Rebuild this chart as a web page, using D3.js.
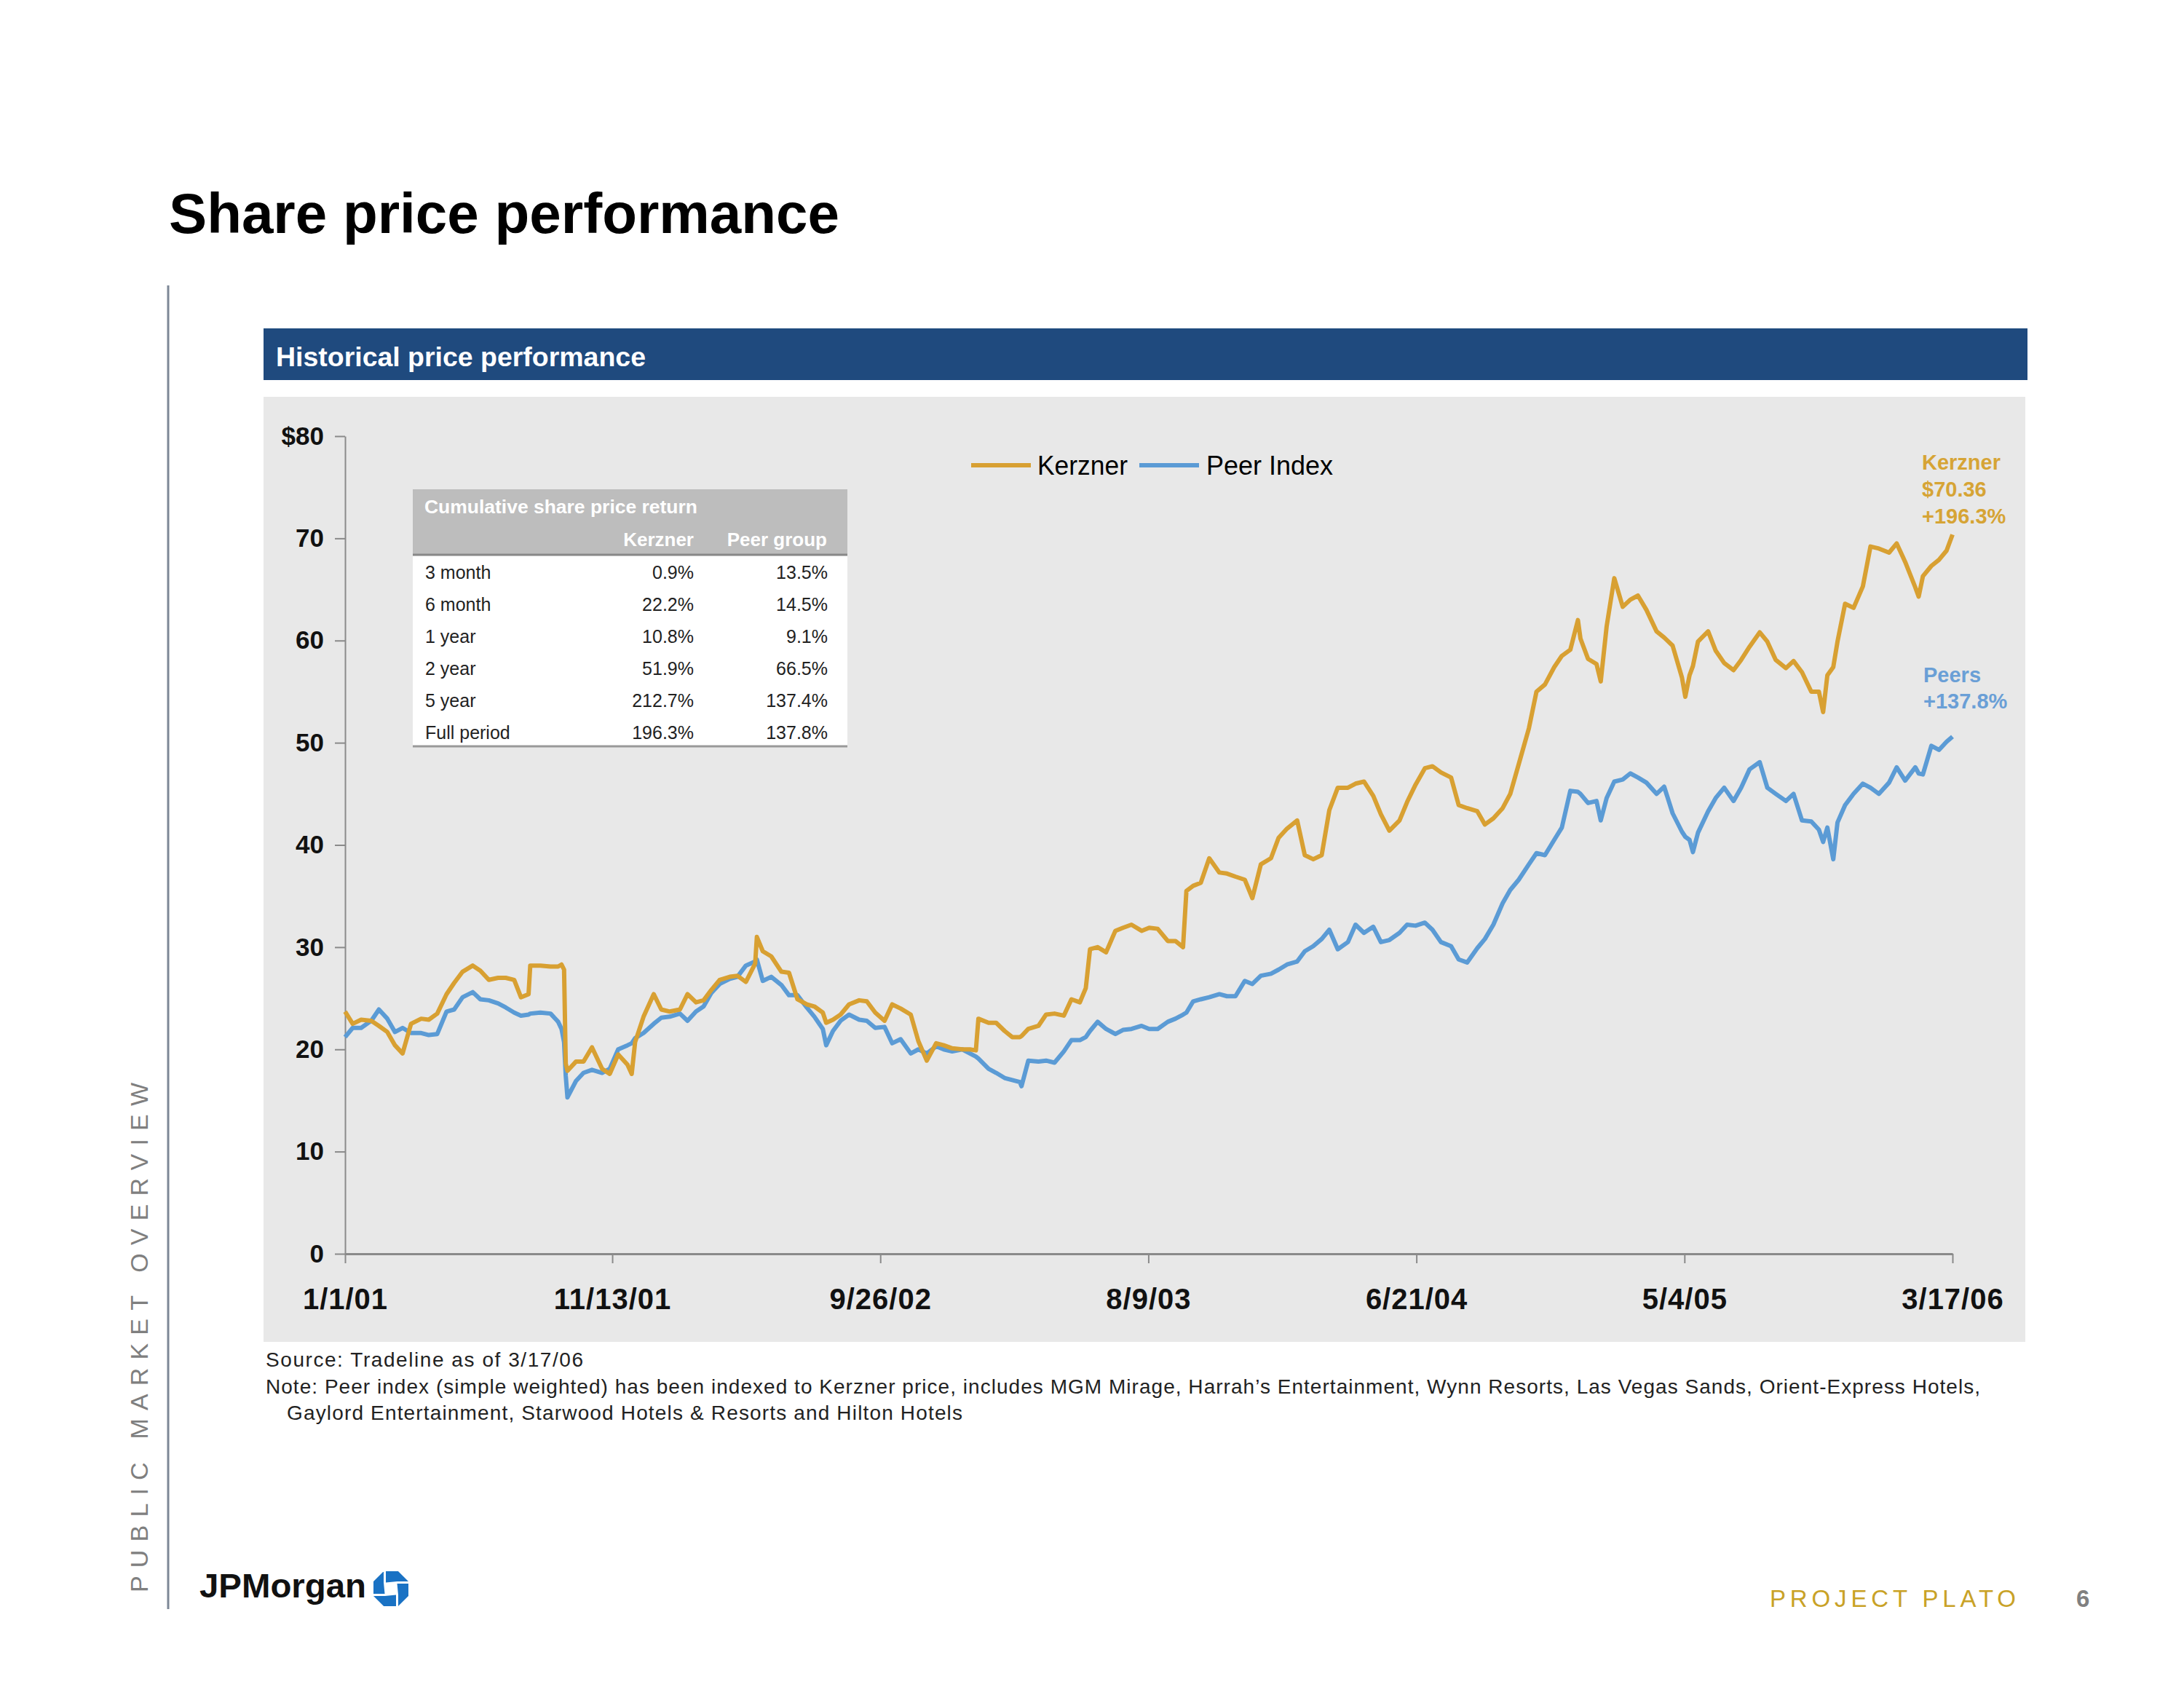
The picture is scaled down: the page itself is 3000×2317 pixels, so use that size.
<!DOCTYPE html>
<html><head><meta charset="utf-8">
<script src="https://cdn.jsdelivr.net/npm/d3@7"></script>
<style>html,body{margin:0;padding:0;background:#fff;} svg{display:block;font-family:"Liberation Sans",Arial,sans-serif;}</style>
</head><body>
<svg id="c" width="3000" height="2317"></svg>
<script>
// ---------- DATA ----------
const dates = [
"2001-01-01","2001-01-10","2001-01-20","2001-02-01","2001-02-10","2001-02-20","2001-03-01","2001-03-10","2001-03-20","2001-04-01",
"2001-04-10","2001-04-20","2001-05-01","2001-05-10","2001-05-20","2001-06-01","2001-06-10","2001-06-20","2001-07-01","2001-07-10",
"2001-07-20","2001-07-28","2001-08-06","2001-08-08","2001-08-20","2001-09-01","2001-09-10","2001-09-14","2001-09-17","2001-09-19",
"2001-09-21","2001-10-01","2001-10-10","2001-10-20","2001-11-01","2001-11-10","2001-11-20","2001-12-01","2001-12-06","2001-12-10",
"2001-12-20","2002-01-01","2002-01-10","2002-01-20","2002-02-01","2002-02-10","2002-02-20","2002-03-01","2002-03-10","2002-03-20",
"2002-04-01","2002-04-10","2002-04-20","2002-05-01","2002-05-03","2002-05-10","2002-05-20","2002-06-01","2002-06-10","2002-06-20",
"2002-07-01","2002-07-10","2002-07-20","2002-07-24","2002-08-01","2002-08-10","2002-08-20","2002-09-01","2002-09-10","2002-09-20",
"2002-10-01","2002-10-10","2002-10-20","2002-11-01","2002-11-10","2002-11-20","2002-12-01","2002-12-10","2002-12-20","2003-01-01",
"2003-01-10","2003-01-17","2003-01-20","2003-02-01","2003-02-10","2003-02-20","2003-03-01","2003-03-10","2003-03-12","2003-03-20",
"2003-04-01","2003-04-10","2003-04-20","2003-05-01","2003-05-10","2003-05-20","2003-05-27","2003-06-01","2003-06-10","2003-06-20",
"2003-07-01","2003-07-10","2003-07-20","2003-08-01","2003-08-10","2003-08-20","2003-09-01","2003-09-10","2003-09-19","2003-09-23",
"2003-10-01","2003-10-10","2003-10-20","2003-11-01","2003-11-10","2003-11-20","2003-12-01","2003-12-10","2003-12-20","2004-01-01",
"2004-01-10","2004-01-20","2004-02-01","2004-02-10","2004-02-20","2004-03-01","2004-03-10","2004-03-20","2004-04-01","2004-04-10",
"2004-04-20","2004-05-01","2004-05-10","2004-05-20","2004-06-01","2004-06-10","2004-06-20","2004-07-01","2004-07-10","2004-07-20",
"2004-08-01","2004-08-10","2004-08-20","2004-09-01","2004-09-10","2004-09-20","2004-10-01","2004-10-10","2004-10-20","2004-11-01",
"2004-11-10","2004-11-20","2004-12-01","2004-12-10","2004-12-20","2004-12-29","2005-01-01","2005-01-10","2005-01-20","2005-01-25",
"2005-02-01","2005-02-10","2005-02-20","2005-03-01","2005-03-10","2005-03-20","2005-04-01","2005-04-10","2005-04-20","2005-05-01",
"2005-05-05","2005-05-10","2005-05-14","2005-05-20","2005-06-01","2005-06-10","2005-06-20","2005-07-01","2005-07-10","2005-07-20",
"2005-08-01","2005-08-10","2005-08-20","2005-09-01","2005-09-10","2005-09-20","2005-10-01","2005-10-10","2005-10-15","2005-10-20",
"2005-10-27","2005-11-01","2005-11-10","2005-11-20","2005-12-01","2005-12-10","2005-12-20","2006-01-01","2006-01-10","2006-01-20",
"2006-02-01","2006-02-05","2006-02-10","2006-02-20","2006-03-01","2006-03-10","2006-03-17"
];
const kerzner = [
23.7,22.5,22.9,22.8,22.3,21.7,20.4,19.6,22.5,23.0,
22.9,23.5,25.4,26.5,27.6,28.2,27.7,26.8,27.0,27.0,
26.8,25.1,25.4,28.2,28.2,28.1,28.1,28.3,27.8,18.6,
17.9,18.8,18.8,20.2,18.1,17.6,19.5,18.5,17.6,20.7,
23.2,25.4,23.9,23.7,23.9,25.4,24.6,24.8,25.8,26.8,
27.1,27.2,26.6,28.4,31.0,29.6,29.1,27.6,27.5,24.9,
24.4,24.2,23.6,22.6,22.9,23.4,24.4,24.8,24.7,23.6,
22.8,24.4,24.0,23.4,20.8,18.9,20.6,20.4,20.1,20.0,
20.0,19.9,23.0,22.6,22.6,21.8,21.2,21.2,21.3,22.0,
22.3,23.4,23.5,23.3,24.9,24.6,26.0,29.8,30.0,29.5,
31.6,31.9,32.2,31.6,31.9,31.8,30.6,30.6,30.0,35.5,
36.0,36.3,38.7,37.3,37.2,36.9,36.6,34.8,38.1,38.7,
40.7,41.6,42.4,39.0,38.6,39.0,43.4,45.6,45.6,46.0,
46.2,44.8,43.0,41.4,42.4,44.2,45.9,47.5,47.7,47.1,
46.6,43.9,43.6,43.3,42.0,42.6,43.6,45.0,47.9,51.4,
55.0,55.7,57.4,58.5,59.1,62.0,60.2,58.2,57.7,56.0,
61.4,66.1,63.3,64.0,64.4,63.0,60.9,60.3,59.5,56.4,
54.5,56.6,57.5,59.9,60.9,59.0,57.8,57.1,58.1,59.4,
60.8,59.9,58.1,57.3,58.0,56.9,55.0,55.0,53.0,56.6,
57.4,59.9,63.6,63.2,65.3,69.2,69.0,68.6,69.5,67.7,
65.2,64.3,66.3,67.3,67.9,68.8,70.36
];
const peers = [
21.2,22.1,22.1,22.8,23.9,23.0,21.7,22.1,21.6,21.6,
21.4,21.5,23.7,23.9,25.1,25.6,24.9,24.8,24.5,24.1,
23.6,23.3,23.4,23.5,23.6,23.5,22.7,22.0,20.7,17.4,
15.3,16.9,17.7,18.0,17.7,18.1,20.0,20.4,20.6,21.1,
21.6,22.5,23.1,23.2,23.5,22.8,23.7,24.2,25.5,26.4,
26.9,27.1,28.2,28.6,28.8,26.7,27.1,26.3,25.3,25.3,
24.1,23.2,22.0,20.4,21.8,22.8,23.4,22.9,22.8,22.1,
22.2,20.6,21.0,19.6,20.0,19.6,20.3,20.0,19.8,20.0,
19.6,19.3,19.1,18.1,17.7,17.2,17.0,16.8,16.4,18.9,
18.8,18.9,18.7,19.8,20.9,20.9,21.2,21.8,22.7,22.0,
21.5,21.9,22.0,22.3,22.0,22.0,22.7,23.0,23.4,23.6,
24.7,24.9,25.1,25.4,25.2,25.2,26.7,26.4,27.2,27.4,
27.8,28.3,28.6,29.6,30.1,30.8,31.7,29.8,30.5,32.2,
31.4,32.0,30.5,30.7,31.4,32.2,32.1,32.4,31.7,30.5,
30.1,28.8,28.5,29.9,30.8,32.2,34.3,35.6,36.6,38.1,
39.2,39.0,40.5,41.7,45.3,45.2,45.0,44.1,44.3,42.4,
44.6,46.2,46.4,47.0,46.6,46.1,45.0,45.7,43.1,41.3,
40.8,40.5,39.3,41.2,43.3,44.6,45.6,44.3,45.6,47.4,
48.1,45.6,45.0,44.3,45.0,42.4,42.3,41.5,40.3,41.7,
38.6,42.2,43.9,45.0,46.0,45.6,45.0,46.1,47.6,46.3,
47.6,47.0,46.9,49.7,49.3,50.1,50.6
];
const seriesNames = ["Kerzner","Peer Index"];
const xTickLabels = ["1/1/01","11/13/01","9/26/02","8/9/03","6/21/04","5/4/05","3/17/06"];
const yTicks = [0,10,20,30,40,50,60,70,80];
const tableRows = ["3 month","6 month","1 year","2 year","5 year","Full period"];
const tableKerzner = ["0.9%","22.2%","10.8%","51.9%","212.7%","196.3%"];
const tablePeers = ["13.5%","14.5%","9.1%","66.5%","137.4%","137.8%"];
const kerznerNote = ["Kerzner","$70.36","+196.3%"];
const peersNote = ["Peers","+137.8%"];

// ---------- STYLE ----------
const GOLD = "#d8a032", BLUE = "#5b9bd5";
const svg = d3.select("#c");
const parse = d3.timeParse("%Y-%m-%d");
const parseTick = d3.timeParse("%m/%d/%y");
const data = dates.map((d,i)=>({date:parse(d), k:kerzner[i], p:peers[i]}));
const tickDates = xTickLabels.map(parseTick);

const x = d3.scaleTime().domain([tickDates[0], tickDates[tickDates.length-1]]).range([474,2682]);
const y = d3.scaleLinear().domain([0,80]).range([1722,599]);

// Page title
svg.append("text").attr("x",232).attr("y",320).attr("font-size",78).attr("font-weight","bold")
  .attr("fill","#000").attr("textLength",921).attr("lengthAdjust","spacingAndGlyphs").text("Share price performance");

// left rule + vertical section text
svg.append("line").attr("x1",231).attr("x2",231).attr("y1",392).attr("y2",2210).attr("stroke","#7d8796").attr("stroke-width",3);
svg.append("text").attr("transform","translate(203,2187) rotate(-90)").attr("font-size",34)
  .attr("fill","#7f7f7f").attr("textLength",700).attr("lengthAdjust","spacing").text("PUBLIC MARKET OVERVIEW");

// header bar
svg.append("rect").attr("x",362).attr("y",451).attr("width",2423).attr("height",71).attr("fill","#1f4a7e");
svg.append("text").attr("x",379).attr("y",503).attr("font-size",37).attr("font-weight","bold").attr("fill","#fff")
  .attr("textLength",508).attr("lengthAdjust","spacingAndGlyphs").text("Historical price performance");

// chart panel
svg.append("rect").attr("x",362).attr("y",545).attr("width",2420).attr("height",1298).attr("fill","#e8e8e8");

// axes
const yAxis = d3.axisLeft(y).tickValues(yTicks).tickSize(14).tickSizeOuter(0).tickPadding(15)
  .tickFormat(d => d===80 ? "$80" : String(d));
const gy = svg.append("g").attr("transform","translate(474,0)").call(yAxis);
gy.select(".domain").attr("stroke","#8a8a8a").attr("stroke-width",2);
gy.selectAll(".tick line").attr("stroke","#8a8a8a").attr("stroke-width",2);
gy.selectAll(".tick text").attr("font-size",35).attr("font-weight","bold").attr("fill","#111")
  .attr("font-family","Liberation Sans, Arial, sans-serif");

const xAxis = d3.axisBottom(x).tickValues(tickDates).tickSize(13).tickSizeOuter(0)
  .tickFormat((d,i)=>xTickLabels[i]);
const gx = svg.append("g").attr("transform","translate(0,1722)").call(xAxis);
gx.select(".domain").attr("stroke","#8a8a8a").attr("stroke-width",3);
gx.selectAll(".tick line").attr("stroke","#8a8a8a").attr("stroke-width",2);
gx.selectAll(".tick text").attr("font-size",40).attr("font-weight","bold").attr("fill","#111")
  .attr("font-family","Liberation Sans, Arial, sans-serif").attr("y",76).attr("dy",0).attr("letter-spacing",1);

// lines
const lineK = d3.line().x(d=>x(d.date)).y(d=>y(d.k));
const lineP = d3.line().x(d=>x(d.date)).y(d=>y(d.p));
svg.append("path").datum(data).attr("d",lineP).attr("fill","none").attr("stroke",BLUE)
  .attr("stroke-width",6).attr("stroke-linejoin","round");
svg.append("path").datum(data).attr("d",lineK).attr("fill","none").attr("stroke",GOLD)
  .attr("stroke-width",6).attr("stroke-linejoin","round");

// legend
const leg = svg.append("g");
leg.append("line").attr("x1",1334).attr("x2",1416).attr("y1",639).attr("y2",639).attr("stroke",GOLD).attr("stroke-width",6);
leg.append("text").attr("x",1425).attr("y",652).attr("font-size",37).attr("fill","#000")
  .attr("textLength",124).attr("lengthAdjust","spacingAndGlyphs").text(seriesNames[0]);
leg.append("line").attr("x1",1565).attr("x2",1647).attr("y1",639).attr("y2",639).attr("stroke",BLUE).attr("stroke-width",6);
leg.append("text").attr("x",1657).attr("y",652).attr("font-size",37).attr("fill","#000")
  .attr("textLength",174).attr("lengthAdjust","spacingAndGlyphs").text(seriesNames[1]);

// end annotations
kerznerNote.forEach((t,i)=>{
  svg.append("text").attr("x",2640).attr("y",645+i*37).attr("font-size",29).attr("font-weight","bold")
    .attr("fill","#d6a435").text(t);
});
peersNote.forEach((t,i)=>{
  svg.append("text").attr("x",2642).attr("y",937+i*36).attr("font-size",29).attr("font-weight","bold")
    .attr("fill","#6a9fd6").text(t);
});

// inset table
const tb = svg.append("g");
tb.append("rect").attr("x",567).attr("y",672).attr("width",597).attr("height",89).attr("fill","#bdbdbd");
tb.append("rect").attr("x",567).attr("y",761).attr("width",597).attr("height",264).attr("fill","#ffffff");
tb.append("line").attr("x1",567).attr("x2",1164).attr("y1",762).attr("y2",762).attr("stroke","#888").attr("stroke-width",3);
tb.append("line").attr("x1",567).attr("x2",1164).attr("y1",1025).attr("y2",1025).attr("stroke","#999").attr("stroke-width",3);
tb.append("text").attr("x",583).attr("y",705).attr("font-size",26).attr("font-weight","bold").attr("fill","#fff")
  .attr("textLength",375).attr("lengthAdjust","spacingAndGlyphs").text("Cumulative share price return");
tb.append("text").attr("x",953).attr("y",750).attr("font-size",26).attr("font-weight","bold").attr("fill","#fff")
  .attr("text-anchor","end").text("Kerzner");
tb.append("text").attr("x",1136).attr("y",750).attr("font-size",26).attr("font-weight","bold").attr("fill","#fff")
  .attr("text-anchor","end").text("Peer group");
tableRows.forEach((r,i)=>{
  const yy = 795 + i*44;
  tb.append("text").attr("x",584).attr("y",yy).attr("font-size",25).attr("fill","#222").text(r);
  tb.append("text").attr("x",953).attr("y",yy).attr("font-size",25).attr("fill","#222").attr("text-anchor","end").text(tableKerzner[i]);
  tb.append("text").attr("x",1137).attr("y",yy).attr("font-size",25).attr("fill","#222").attr("text-anchor","end").text(tablePeers[i]);
});

// footnotes
svg.append("text").attr("x",365).attr("y",1877).attr("font-size",28).attr("fill","#222")
  .attr("textLength",436).attr("lengthAdjust","spacing").text("Source: Tradeline as of 3/17/06");
svg.append("text").attr("x",365).attr("y",1914).attr("font-size",28).attr("fill","#222")
  .attr("textLength",2355).attr("lengthAdjust","spacing")
  .text("Note: Peer index (simple weighted) has been indexed to Kerzner price, includes MGM Mirage, Harrah\u2019s Entertainment, Wynn Resorts, Las Vegas Sands, Orient-Express Hotels,");
svg.append("text").attr("x",394).attr("y",1950).attr("font-size",28).attr("fill","#222")
  .attr("textLength",928).attr("lengthAdjust","spacing").text("Gaylord Entertainment, Starwood Hotels & Resorts and Hilton Hotels");

// footer: JPMorgan + logo
svg.append("text").attr("x",274).attr("y",2194).attr("font-size",46).attr("font-weight","bold").attr("fill","#111")
  .attr("textLength",229).attr("lengthAdjust","spacingAndGlyphs").text("JPMorgan");
const logo = svg.append("g").attr("transform","translate(537,2182)");
const R = 24, s = 8.5, c = R*0.414, g = 1.5;
const piece = [[-s+g,-s],[-s+g,-R],[c,-R],[R,-c],[R,-s-g],[s,-s-g]];
[0,90,180,270].forEach(a=>{
  logo.append("polygon").attr("points",piece.map(p=>p.join(",")).join(" "))
    .attr("transform",`rotate(${a})`).attr("fill","#1a72c4");
});

svg.append("text").attr("x",2431).attr("y",2207).attr("font-size",33).attr("fill","#c9a227")
  .attr("textLength",338).attr("lengthAdjust","spacing").text("PROJECT PLATO");
svg.append("text").attr("x",2852).attr("y",2207).attr("font-size",33).attr("font-weight","bold").attr("fill","#808080").text("6");
</script>
</body></html>
